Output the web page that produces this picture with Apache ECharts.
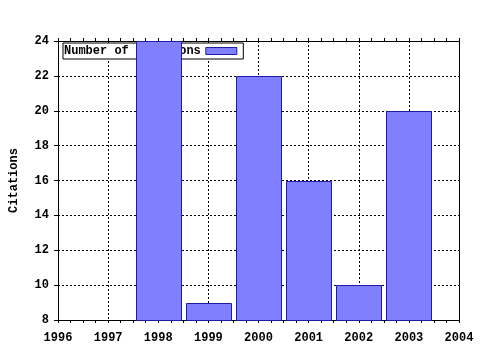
<!DOCTYPE html>
<html>
<head>
<meta charset="utf-8">
<script src="https://cdn.jsdelivr.net/npm/echarts@6/dist/echarts.min.js"></script>
<style>html,body{margin:0;padding:0;background:#fff;}#c{width:480px;height:350px;}</style>
</head>
<body>
<div id="c"></div>
<script>
const years = [1998, 1999, 2000, 2001, 2002, 2003];
const citations = [24, 9, 22, 16, 10, 20];
const seriesName = 'Number of citations';
const yAxisName = 'Citations';

const FONT = 'Liberation Mono';
const FSIZE = 12;
const FILL = '#8080ff';
const EDGE = '#1c1ca8';
const YMIN = 8;

const data = years.map((y, i) => [y, citations[i]]);
const chart = echarts.init(document.getElementById('c'), null, {renderer: 'canvas'});

const labelStyle = {color: '#000', fontFamily: FONT, fontWeight: 'bold', fontSize: FSIZE};
const dotted = {show: true, lineStyle: {color: '#000', type: [2, 2], width: 1}};

chart.setOption({
  animation: false,
  backgroundColor: '#fff',
  grid: {left: 58, right: 21, top: 41, bottom: 30, show: false, containLabel: false, outerBoundsMode: 'none'},
  legend: {
    show: true,
    z: 1,
    left: 63, top: 43,
    align: 'right',
    orient: 'horizontal',
    backgroundColor: '#fff',
    borderColor: '#000',
    borderWidth: 1,
    borderRadius: 0,
    padding: [2, 6, 2, 1],
    itemWidth: 31, itemHeight: 7,
    textStyle: {color: '#000', fontFamily: FONT, fontWeight: 'bold', fontSize: FSIZE},
    data: [{name: seriesName, icon: 'rect', itemStyle: {color: FILL, borderColor: EDGE, borderWidth: 1}}]
  },
  xAxis: [{
    type: 'value', position: 'bottom', min: 1996, max: 2004, interval: 1,
    axisLine: {show: true, onZero: false, lineStyle: {color: '#000', width: 1}},
    axisTick: {show: true, inside: false, length: 3, lineStyle: {color: '#000'}},
    minorTick: {show: true, splitNumber: 4, length: 3, lineStyle: {color: '#000'}},
    axisLabel: Object.assign({margin: 12, formatter: v => String(v)}, labelStyle),
    splitLine: dotted
  }, {
    type: 'value', position: 'top', min: 1996, max: 2004, interval: 1,
    axisLine: {show: true, onZero: false, lineStyle: {color: '#000', width: 1}},
    axisTick: {show: true, inside: false, length: 3, lineStyle: {color: '#000'}},
    minorTick: {show: true, splitNumber: 4, length: 3, lineStyle: {color: '#000'}},
    axisLabel: {show: false},
    splitLine: {show: false}
  }],
  yAxis: [{
    type: 'value', position: 'left', min: YMIN, max: 24, interval: 2,
    name: yAxisName, nameLocation: 'middle', nameRotate: 90, nameGap: 38,
    nameTextStyle: {color: '#000', fontFamily: FONT, fontWeight: 'bold', fontSize: FSIZE},
    axisLine: {show: true, onZero: false, lineStyle: {color: '#000', width: 1}},
    axisTick: {show: true, inside: false, length: 4, lineStyle: {color: '#000'}},
    axisLabel: Object.assign({margin: 9}, labelStyle),
    splitLine: dotted
  }, {
    type: 'value', position: 'right', min: YMIN, max: 24, interval: 2,
    axisLine: {show: true, onZero: false, lineStyle: {color: '#000', width: 1}},
    axisTick: {show: false},
    axisLabel: {show: false},
    splitLine: {show: false}
  }],
  series: [{
    name: seriesName,
    type: 'custom',
    z: 3,
    xAxisIndex: 0, yAxisIndex: 0,
    itemStyle: {color: FILL, borderColor: EDGE},
    encode: {x: 0, y: 1},
    data: data,
    renderItem: function (params, api) {
      const x = api.value(0), v = api.value(1);
      const p1 = api.coord([x - 0.45, v]);
      const p2 = api.coord([x + 0.45, YMIN]);
      const x0 = Math.round(p1[0]) + 0.5, x1 = Math.round(p2[0]) + 0.5;
      const y0 = Math.round(p1[1]) + 0.5, y1 = Math.round(p2[1]) + 0.5;
      return {
        type: 'rect',
        shape: {x: x0, y: y0, width: x1 - x0, height: y1 - y0},
        style: {fill: FILL, stroke: EDGE, lineWidth: 1}
      };
    }
  }]
});
</script>
</body>
</html>
